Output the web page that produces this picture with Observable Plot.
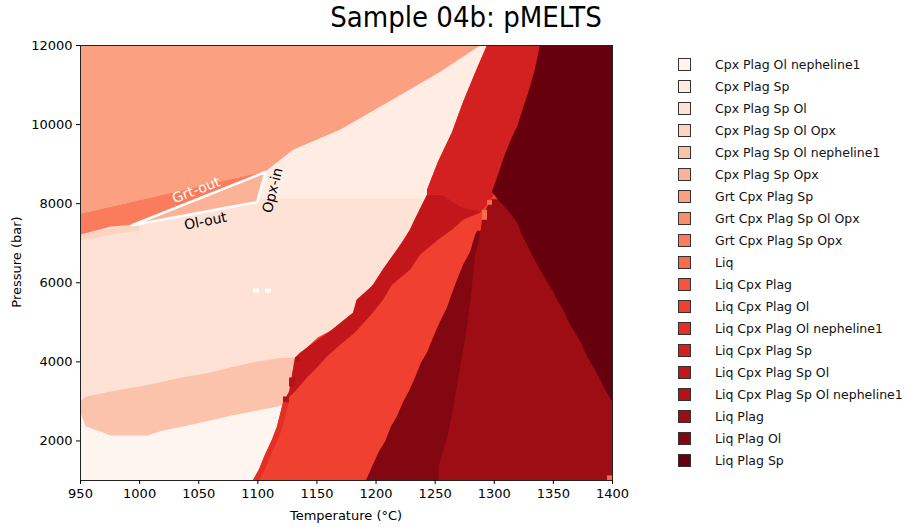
<!DOCTYPE html>
<html><head><meta charset="utf-8">
<script src="https://cdn.jsdelivr.net/npm/d3@7"></script>
<script src="https://cdn.jsdelivr.net/npm/@observablehq/plot@0.6"></script>
<style>
body{margin:0;background:#fff;font-family:"DejaVu Sans",sans-serif;}
#wrap{position:relative;width:914px;height:527px;overflow:hidden}
#title{position:absolute;left:466px;top:0px;transform:translateX(-50%);white-space:nowrap;font-family:"DejaVu Sans Condensed","DejaVu Sans";font-size:29px;color:#000}
#xlab{position:absolute;left:346px;top:508px;transform:translateX(-50%);font-size:13px;white-space:nowrap}
#ylab{position:absolute;left:16px;top:262px;transform:translate(-50%,-50%) rotate(-90deg);font-size:13px;white-space:nowrap}
#legend{position:absolute;left:678px;top:53px}
.item{height:22.06px;display:flex;align-items:center;font-size:12.5px;color:#111;white-space:nowrap}
.sw{width:13px;height:13px;border:1px solid #333;margin-right:24px;box-sizing:border-box}
</style></head><body><div id="wrap"></div>
<script>
// ---------- data ----------
const phases = ["Cpx Plag Ol nepheline1","Cpx Plag Sp","Cpx Plag Sp Ol","Cpx Plag Sp Ol Opx","Cpx Plag Sp Ol nepheline1","Cpx Plag Sp Opx","Grt Cpx Plag Sp","Grt Cpx Plag Sp Ol Opx","Grt Cpx Plag Sp Opx","Liq","Liq Cpx Plag","Liq Cpx Plag Ol","Liq Cpx Plag Ol nepheline1","Liq Cpx Plag Sp","Liq Cpx Plag Sp Ol","Liq Cpx Plag Sp Ol nepheline1","Liq Plag","Liq Plag Ol","Liq Plag Sp"];
const xTicks = [950,1000,1050,1100,1150,1200,1250,1300,1350,1400];
const yTicks = [2000,4000,6000,8000,10000,12000];

// fields given as rows [P, T_left, T_right]
const cpxPlagSpOl = [[1000,950,1400],[12000,950,1400]];
const cpxPlagSp = [[8120,1099.5,1300],[12000,1099.5,1300]];
// fields given as rows [T, P_low, P_high]
const cpxPlagOlNe = [[950,1000,2733],[955,1000,2355],[965,1000,2254],[976,1000,2127],[1007,1000,2127],[1020,1000,2254],[1040,1000,2370],[1058,1000,2490],[1078,1000,2632],[1096,1000,2733],[1117,1000,2860],[1132,1000,2986],[1140,1000,3050]];
const cpxPlagSpOlNe = [[950,2733,2986],[955,2355,3112],[965,2254,3170],[976,2127,3238],[1000,2127,3364],[1007,2127,3400],[1020,2254,3491],[1040,2370,3617],[1058,2490,3700],[1078,2632,3850],[1096,2733,3970],[1117,2860,4080],[1132,2986,4097],[1140,3050,4150]];
const cpxPlagSpOlOpx = [[7050,950,950],[7203,950,975],[7300,965,1000],[7455,993.7,1000]];
const grtCpxPlagSpOpx = [[7203,950,950],[7405,950,975.4],[7455,950,993.7],[7733,950,1017],[8801,1106.5,1106.5]];
const grtCpxPlagSp = [[7733,950,950],[8793,950,1106.5],[9349,950,1130.2],[9854,950,1169.9],[10687,950,1218.1],[11318,950,1254.5],[12000,950,1289]];
const cpxPlagSpOpx = [[7455,993.7,993.7],[8043,1043,1099.5],[8801,1106.5,1106.5]];
const liqCpxPlagOl = [[1000,1096.3,1400],[1269,1101.4,1400],[1647,1106.5,1400],[2026,1112.4,1400],[2355,1116.6,1400],[2961,1121.7,1400],[3112,1126.8,1400],[3592,1129,1400],[4097,1131.9,1400],[4223,1136.1,1400],[4349,1142,1400],[4602,1151,1400],[4854,1167,1400],[5132,1180,1400],[5561,1184,1400],[5864,1196,1400],[6369,1207,1400],[6824,1218,1400],[7329,1229,1400],[7834,1237,1400],[8212,1243.5,1400],[8339,1243.5,1400],[9046,1252.8,1400],[9803,1264.7,1400],[10561,1274,1400],[11293,1284.1,1400],[12000,1294.3,1400]];
const liqCpxPlagSpOl = [[2961,1121.7,1121.7],[3238,1126.8,1131.9],[3592,1129,1142],[3870,1130.5,1151.3],[4097,1131.9,1158],[4349,1142,1167.4],[4728,1160,1182.6],[5233,1181,1197.8],[5561,1184,1206.3],[5940,1198,1213.9],[6319,1206,1229.1],[6698,1215,1237.6],[7076,1224,1252.8],[7329,1229,1264.7],[7581,1233,1274],[7758,1236,1288.4],[8212,1243.5,1300]];
const liqCpxPlagSp = [[8212,1243.5,1400],[8339,1243.5,1400],[9046,1252.8,1400],[9803,1264.7,1400],[10561,1274,1400],[11293,1284.1,1400],[12000,1294.3,1400]];
const liqCpxPlagSpLow = [[1256,8212,8230],[1272,7900,8230],[1288,7783,8230],[1294,7960,8230],[1298.5,8150,8230]];
const liqCpxPlagOlNe = [[1000,1096.3,1101.5],[1269,1101.4,1106.5],[1647,1106.5,1111.5],[2026,1112.4,1117.5],[2355,1116.6,1121.5],[2961,1121.7,1126.5]];
const liqPlagOl = [[1000,1192,1400],[1395,1197.8,1400],[1724,1202.9,1400],[1976,1208,1400],[2355,1213,1400],[2608,1218,1400],[2961,1223,1400],[3238,1228,1400],[3592,1233.4,1400],[3971,1238.4,1400],[4223,1243.5,1400],[4602,1248.6,1400],[4955,1253.7,1400],[5359,1260.4,1400],[5738,1264.7,1400],[6066,1268.9,1400],[6445,1274,1400],[6773,1280,1400],[7203,1284.1,1400],[7300,1286,1400]];
const liqPlag = [[1000,1253,1400],[1395,1253.7,1400],[2103,1261,1400],[2860,1265.9,1400],[3718,1270.6,1400],[4602,1276,1400],[5561,1280.3,1400],[6647,1284,1400],[7203,1288.4,1400],[7581,1290,1400],[7910,1294.3,1400],[8100,1298,1400]];
const liqPlagSp = [[2986,1400,1400],[3238,1394.9,1400],[3592,1389,1400],[3870,1384,1400],[4122,1378.9,1400],[4476,1373.8,1400],[4728,1368.7,1400],[4981,1363.6,1400],[5309,1358.6,1400],[5561,1353.5,1400],[5814,1349.3,1400],[6066,1344.2,1400],[6319,1339.1,1400],[6647,1333.2,1400],[6900,1329,1400],[7203,1323.9,1400],[7505,1319.6,1400],[7758,1313.7,1400],[7960,1307.8,1400],[8086,1303.6,1400],[8288,1298.5,1400],[8793,1304.4,1400],[9172,1308.6,1400],[9551,1313.7,1400],[9930,1319.6,1400],[10409,1324.7,1400],[10788,1329,1400],[11293,1334,1400],[12000,1339.1,1400]];
// single cells [T1, T2, P1, P2]
const cellsSpOlNe = [[1121.7,1126.8,2961,3112],[1126.8,1131.9,3364,3592],[1131.9,1136.1,3996,4097]];
const cellsLiq = [[1290,1294.3,7581,7834],[1294.3,1298.5,7960,8086],[1395.8,1400,1000,1117]];
const cellsEmpty = [[1096.3,1101.4,5739,5840],[1106.5,1111.6,5739,5840]];
// annotation
const boundaryTriangle = [[993.7,7455],[1106.5,8801],[1099.5,8043],[993.7,7455]];
const boundaryLabels = [
  {label:"Grt-out", T:1048, P:8339, angle:-21, color:"white"},
  {label:"Ol-out", T:1055.7, P:7556, angle:-11, color:"black"},
  {label:"Opx-in", T:1112.6, P:8339, angle:-76, color:"black"}
];

// ---------- colours (matplotlib "Reds") ----------
const redsAnchors = ["#fff5f0","#fee0d2","#fcbba1","#fc9272","#fb6a4a","#ef3b2c","#cb181d","#a50f15","#67000d"];
function reds(t){const s=t*8;const i=Math.min(7,Math.floor(s));return d3.rgb(d3.interpolateRgb(redsAnchors[i],redsAnchors[i+1])(s-i)).formatHex();}
const colors = phases.map((p,i)=>reds(i/(phases.length-1)));

const fx = (data, name) => Plot.areaX(data, {y: d=>d[0], x1: d=>d[1], x2: d=>d[2], fill: () => name});
const fy = (data, name) => Plot.areaY(data, {x: d=>d[0], y1: d=>d[1], y2: d=>d[2], fill: () => name});
const cells = (data, name) => Plot.rect(data, {x1: d=>d[0], x2: d=>d[1], y1: d=>d[2], y2: d=>d[3], fill: () => name});

const chart = Plot.plot({
  width: 914, height: 527,
  marginLeft: 80, marginRight: 302, marginTop: 45, marginBottom: 47,
  style: {fontFamily: "DejaVu Sans", fontSize: "13px", color: "#000", background: "transparent"},
  x: {domain: [950,1400], label: null},
  y: {domain: [1000,12000], label: null},
  color: {type: "ordinal", domain: phases, range: colors},
  marks: [
    fx(cpxPlagSpOl, "Cpx Plag Sp Ol"),
    fx(cpxPlagSp, "Cpx Plag Sp"),
    fy(cpxPlagOlNe, "Cpx Plag Ol nepheline1"),
    fy(cpxPlagSpOlNe, "Cpx Plag Sp Ol nepheline1"),
    fx(cpxPlagSpOlOpx, "Cpx Plag Sp Ol Opx"),
    fx(grtCpxPlagSp, "Grt Cpx Plag Sp"),
    fx(grtCpxPlagSpOpx, "Grt Cpx Plag Sp Opx"),
    fx(cpxPlagSpOpx, "Cpx Plag Sp Opx"),
    fx(liqCpxPlagOl, "Liq Cpx Plag Ol"),
    fx(liqCpxPlagSpOl, "Liq Cpx Plag Sp Ol"),
    fx(liqCpxPlagSp, "Liq Cpx Plag Sp"),
    fy(liqCpxPlagSpLow, "Liq Cpx Plag Sp"),
    fx(liqCpxPlagOlNe, "Liq Cpx Plag Ol nepheline1"),
    cells(cellsSpOlNe, "Liq Cpx Plag Sp Ol nepheline1"),
    fx(liqPlagOl, "Liq Plag Ol"),
    fx(liqPlag, "Liq Plag"),
    fx(liqPlagSp, "Liq Plag Sp"),
    cells(cellsLiq, "Liq"),
    Plot.rect(cellsEmpty, {x1: d=>d[0], x2: d=>d[1], y1: d=>d[2], y2: d=>d[3], fill: "white"}),
    Plot.line(boundaryTriangle, {x: d=>d[0], y: d=>d[1], stroke: "white", strokeWidth: 2.6, strokeLinejoin: "miter"}),
    Plot.text(boundaryLabels, {x: "T", y: "P", text: "label", rotate: "angle", fill: d=>d.color, fontSize: 14, fontFamily: "DejaVu Sans"}),
    Plot.frame({stroke: "#222", strokeWidth: 1}),
    Plot.axisX({ticks: xTicks, tickSize: 4, tickPadding: 4, fontSize: 13, label: null, tickFormat: d=>String(d)}),
    Plot.axisY({ticks: yTicks, tickSize: 4, tickPadding: 4, fontSize: 13, label: null, tickFormat: d=>String(d)})
  ]
});
// text fill from data is literal colours; ensure they are not mapped through the scale
const wrap = document.getElementById("wrap");
wrap.appendChild(chart);

function addDiv(id, text){const d=document.createElement("div");d.id=id;d.textContent=text;wrap.appendChild(d);return d;}
addDiv("title","Sample 04b: pMELTS");
addDiv("xlab","Temperature (°C)");
addDiv("ylab","Pressure (bar)");
const leg = addDiv("legend","");
phases.forEach((p,i)=>{
  const it=document.createElement("div");it.className="item";
  const sw=document.createElement("div");sw.className="sw";sw.style.background=colors[i];
  const tx=document.createElement("span");tx.textContent=p;
  it.appendChild(sw);it.appendChild(tx);leg.appendChild(it);
});
</script></body></html>
